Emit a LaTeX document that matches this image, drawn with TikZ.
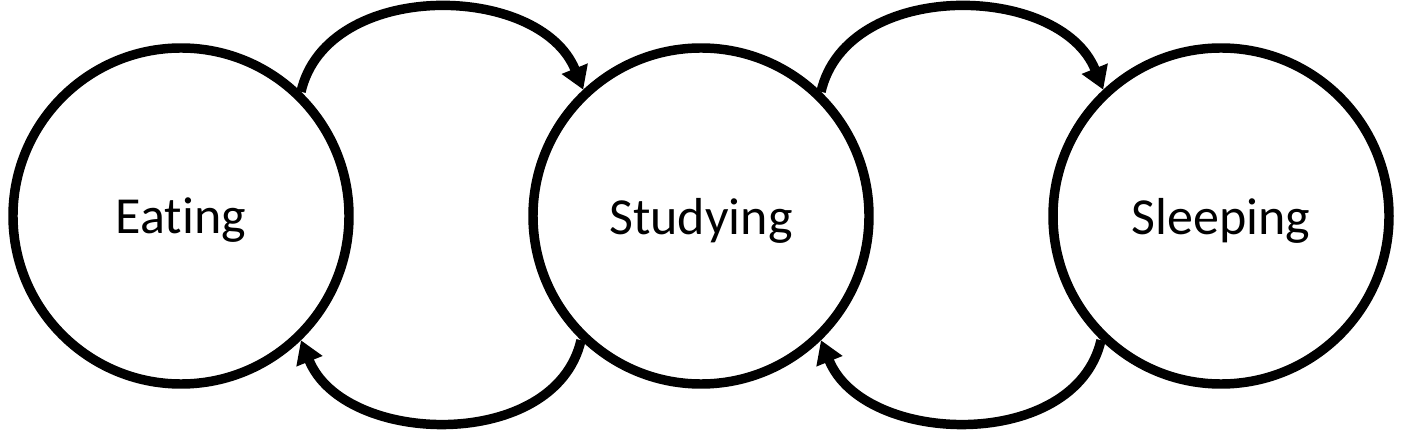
\documentclass[tikz,border=0pt]{standalone}
\usepackage{fontspec}
\setmainfont{Carlito}[Ligatures=NoCommon]
\usetikzlibrary{arrows.meta}

\begin{document}
\begin{tikzpicture}[x=0.75pt, y=0.75pt,
		state/.style={draw, circle, line width=7.1pt, minimum size=252pt, inner sep=0pt, font=\fontsize{39}{45}\selectfont, text depth=0pt},
		link/.style={line width=7.1pt, -{Triangle[length=17pt, width=20pt]}}]
				\useasboundingbox (0, 0) rectangle (1402, 432);
				\node[state] (eat) at (181, 216) {Eating};
				\node[state] (study) at (701, 216) {Studying};
				\node[state] (sleep) at (1221, 216) {Sleeping};
				\draw[link] (eat.46) to[out=77, in=112, looseness=1.05] (study.133);
				\draw[link] (study.226) to[out=257, in=292, looseness=1.05] (eat.314);
				\draw[link] (study.46) to[out=77, in=112, looseness=1.05] (sleep.133);
				\draw[link] (sleep.226) to[out=257, in=292, looseness=1.05] (study.314);
			\end{tikzpicture}
\end{document}
